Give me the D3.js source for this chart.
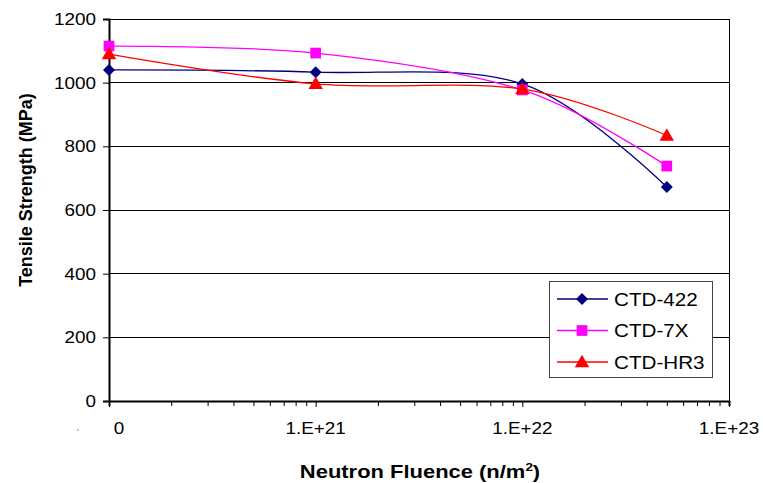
<!DOCTYPE html>
<html>
<head>
<meta charset="utf-8">
<title>Tensile Strength vs Neutron Fluence</title>
<script src="https://cdnjs.cloudflare.com/ajax/libs/d3/7.8.5/d3.min.js"></script>
<style>
body { margin: 0; background: #fff; }
text { font-family: "Liberation Sans", Arial, sans-serif; fill: #000; }
.tick-label { font-size: 16px; }
.title { font-size: 18px; font-weight: bold; }
.legend-text { font-size: 17.5px; }
</style>
</head>
<body>
<svg id="vis" width="763" height="483"></svg>
<script>
// fluence values (n/m^2) at which the samples were measured
var fluence = [1e20, 1e21, 1e22, 5e22];
var ctd422 = [1040, 1033, 996, 672];
var ctd7x  = [1115, 1093, 977, 738];
var ctdhr3 = [1090, 996, 980, 834];
var seriesNames = ['CTD-422', 'CTD-7X', 'CTD-HR3'];
var xTicks = [1e20, 1e21, 1e22, 1e23];
var xTickLabels = ['0', '1.E+21', '1.E+22', '1.E+23'];
var yTicks = [0, 200, 400, 600, 800, 1000, 1200];

var svg = d3.select('#vis');
var plotL = 109, plotR = 729, plotT = 19, plotB = 401;
var stretch = 1.18; // the original is a bit wider than tall

var x = d3.scaleLog().domain([1e20, 1e23]).range([plotL, plotR]);
var y = d3.scaleLinear().domain([0, 1200]).range([plotB, plotT]);

// diamond = square turned 45 degrees
var series = [
  {name: seriesNames[0], values: ctd422, color: '#000080', marker: d3.symbolSquare, size: 72, rot: 45, dy: 0},
  {name: seriesNames[1], values: ctd7x,  color: '#FF00FF', marker: d3.symbolSquare, size: 115, rot: 0, dy: 0},
  {name: seriesNames[2], values: ctdhr3, color: '#FF0000', marker: d3.symbolTriangle, size: 90, rot: 0, dy: 1}
];

function wideText(parent, px, py, anchor, cls, str) {
  return parent.append('text')
    .attr('class', cls)
    .attr('text-anchor', anchor)
    .attr('transform', `translate(${px},${py}) scale(${stretch},1)`)
    .text(str);
}

// gridlines
svg.append('g').selectAll('line')
  .data(yTicks.filter(d => d > 0))
  .enter().append('line')
    .attr('x1', plotL).attr('x2', plotR)
    .attr('y1', d => y(d)).attr('y2', d => y(d))
    .attr('stroke', '#000').attr('stroke-width', 1)
    .attr('shape-rendering', 'crispEdges');

// right border
svg.append('line')
  .attr('x1', plotR).attr('x2', plotR)
  .attr('y1', plotT).attr('y2', plotB)
  .attr('stroke', '#000').attr('shape-rendering', 'crispEdges');

// y axis
var yAxis = svg.append('g')
  .attr('transform', `translate(${plotL},0)`)
  .call(d3.axisLeft(y).tickValues(yTicks).tickSize(6).tickFormat(''));
yAxis.select('.domain').attr('stroke-width', 2);
yTicks.forEach(function(t) {
  wideText(svg, 96, y(t) + 6, 'end', 'tick-label', d3.format('d')(t));
});

// x axis: minor log ticks
var minor = [];
[1e20, 1e21, 1e22].forEach(function(dec) {
  for (var k = 2; k <= 9; k++) minor.push(dec * k);
});
var xAxis = svg.append('g')
  .attr('transform', `translate(0,${plotB})`)
  .call(d3.axisBottom(x).tickValues(minor).tickSize(5).tickFormat(''));
xAxis.select('.domain').attr('stroke-width', 2);

var xMajor = svg.append('g')
  .attr('transform', `translate(0,${plotB})`)
  .call(d3.axisBottom(x).tickValues(xTicks).tickSize(6).tickFormat(''));
xMajor.select('.domain').remove();
xTicks.forEach(function(t, i) {
  wideText(svg, x(t) + (i === 0 ? 10 : 0), 434, 'middle', 'tick-label', xTickLabels[i]);
});

// stray mark left of the axis labels
svg.append('circle').attr('cx', 78).attr('cy', 430).attr('r', 0.7).attr('fill', '#555');

// series
var line = d3.line()
  .x((d, i) => x(fluence[i]))
  .y(d => y(d))
  .curve(d3.curveCardinal.tension(0));

function marker(sel, s) {
  sel.attr('d', d3.symbol().type(s.marker).size(s.size))
    .attr('fill', s.color);
}

series.forEach(function(s) {
  var g = svg.append('g');
  g.append('path')
    .attr('d', line(s.values))
    .attr('fill', 'none')
    .attr('stroke', s.color)
    .attr('stroke-width', 1.3);
  g.selectAll('path.mark')
    .data(s.values)
    .enter().append('path')
      .attr('class', 'mark')
      .attr('transform', (d, i) => `translate(${x(fluence[i])},${y(d) + s.dy}) rotate(${s.rot})`)
      .call(marker, s);
});

// legend
var lg = svg.append('g').attr('transform', 'translate(549,281)');
lg.append('rect')
  .attr('width', 163).attr('height', 96)
  .attr('fill', '#fff').attr('stroke', '#444').attr('stroke-width', 1)
  .attr('shape-rendering', 'crispEdges');
series.forEach(function(s, i) {
  var yy = 18 + i * 31.5;
  lg.append('line')
    .attr('x1', 8).attr('x2', 59).attr('y1', yy).attr('y2', yy)
    .attr('stroke', s.color).attr('stroke-width', 1.3);
  lg.append('path')
    .attr('transform', `translate(33,${yy + s.dy}) rotate(${s.rot})`)
    .call(marker, s);
  wideText(lg, 65, yy + 6.5, 'start', 'legend-text', s.name);
});

// axis titles
svg.append('text')
  .attr('class', 'title')
  .attr('transform', 'translate(32,190) rotate(-90)')
  .attr('text-anchor', 'middle')
  .text('Tensile Strength (MPa)');

var xt = svg.append('text')
  .attr('class', 'title')
  .attr('text-anchor', 'middle')
  .attr('transform', `translate(420,478) scale(${stretch + 0.04},1)`);
xt.append('tspan').text('Neutron Fluence (n/m');
xt.append('tspan').attr('dy', -7).attr('font-size', '11px').text('2');
xt.append('tspan').attr('dy', 7).text(')');
</script>
</body>
</html>
